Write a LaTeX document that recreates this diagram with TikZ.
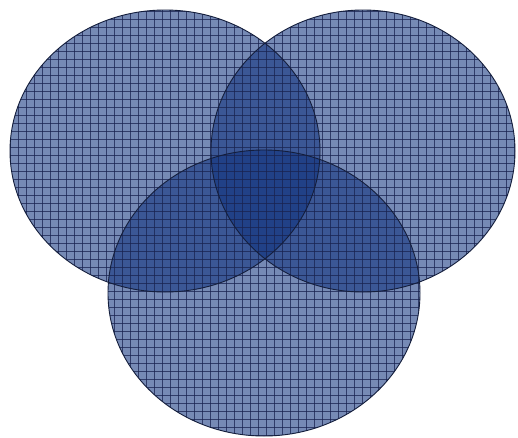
\documentclass[tikz,border=0pt]{standalone}
\begin{document}
\begin{tikzpicture}[x=1pt,y=-1pt,
  venn/.style={fill={rgb,255:red,15;green,50;blue,125}, fill opacity=0.57},
  rim/.style={draw={rgb,255:red,20;green,30;blue,60}, line width=0.9pt},
  gridline/.style={draw={rgb,255:red,25;green,35;blue,80}, line width=0.8pt, opacity=0.75}]
\useasboundingbox[fill=white] (0,0) rectangle (518,437);
\def\Lc{(165,151) ellipse [x radius=155, y radius=141]}
\def\Rc{(363,151) ellipse [x radius=152, y radius=141]}
\def\Bc{(264,293) ellipse [x radius=156, y radius=143]}
\fill[venn] \Lc;
\fill[venn] \Rc;
\fill[venn] \Bc;
\begin{scope}
  \clip \Lc \Rc \Bc;
  \foreach \i in {0,...,66} {
    \draw[gridline] (\i*8+2,0) -- (\i*8+2,437);
  }
  \foreach \j in {0,...,55} {
    \draw[gridline] (0,\j*8+3) -- (518,\j*8+3);
  }
\end{scope}
\draw[rim] \Lc;
\draw[rim] \Rc;
\draw[rim] \Bc;
\end{tikzpicture}
\end{document}
